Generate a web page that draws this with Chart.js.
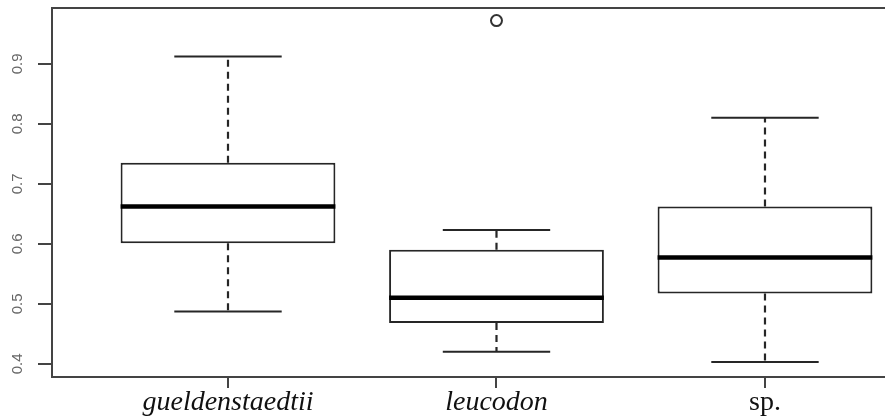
<!DOCTYPE html>
<html>
<head>
<meta charset="utf-8">
<script src="https://cdn.jsdelivr.net/npm/chart.js@4"></script>
<style>
html,body{margin:0;padding:0;background:#fff;overflow:hidden;}
#wrap{width:885px;height:420px;}
</style>
</head>
<body>
<div id="wrap"><canvas id="c" width="885" height="420"></canvas></div>
<script>
const categories = ['gueldenstaedtii', 'leucodon', 'sp.'];
const italicLabels = [true, true, false];
const whiskerLow = [0.487, 0.420, 0.403];
const q1 = [0.601, 0.468, 0.517];
const median = [0.662, 0.510, 0.577];
const q3 = [0.735, 0.590, 0.662];
const whiskerHigh = [0.912, 0.623, 0.810];
const outliers = [[], [0.972], []];
const yTicks = [0.4, 0.5, 0.6, 0.7, 0.8, 0.9];

const BOX_W = 0.8, CAP_W = 0.4;
const INK = '#262626';
const AXIS = '#444';

const datasets = [];
datasets.push({
  type: 'bar',
  data: categories.map((c, i) => ({x: i + 1, y: [q1[i], q3[i]]})),
  backgroundColor: '#ffffff',
  borderColor: INK,
  borderWidth: 2,
  borderSkipped: false,
  barPercentage: BOX_W,
  categoryPercentage: 1,
  order: 3
});
categories.forEach((c, i) => {
  const x = i + 1;
  [[q3[i], whiskerHigh[i]], [q1[i], whiskerLow[i]]].forEach(([a, b]) => {
    datasets.push({type: 'line', data: [{x, y: a}, {x, y: b}], borderColor: INK, borderWidth: 2.2,
      borderDash: [7, 5], pointRadius: 0, fill: false, order: 4});
  });
  [whiskerHigh[i], whiskerLow[i]].forEach(v => {
    datasets.push({type: 'line', data: [{x: x - CAP_W / 2, y: v}, {x: x + CAP_W / 2, y: v}], borderColor: INK,
      borderWidth: 2, pointRadius: 0, fill: false, order: 2});
  });
  datasets.push({type: 'line', data: [{x: x - BOX_W / 2, y: median[i]}, {x: x + BOX_W / 2, y: median[i]}],
    borderColor: '#000', borderWidth: 4.5, pointRadius: 0, fill: false, borderCapStyle: 'butt', order: 0});
});
datasets.push({
  type: 'scatter',
  data: outliers.flatMap((arr, i) => arr.map(v => ({x: i + 1, y: v}))),
  pointStyle: 'circle', pointRadius: 5.5, borderColor: '#333', borderWidth: 2,
  backgroundColor: 'rgba(0,0,0,0)', order: 1
});

const framePlugin = {
  id: 'frame',
  afterDraw(chart) {
    const {ctx, chartArea} = chart;
    ctx.save();
    ctx.strokeStyle = AXIS;
    ctx.lineWidth = 2;
    ctx.beginPath();
    ctx.moveTo(chartArea.left - 1, chartArea.top);
    ctx.lineTo(chartArea.right, chartArea.top);
    ctx.stroke();
    const ys = chart.scales.y;
    ctx.fillStyle = '#666';
    ctx.font = '15px "Liberation Sans", Arial, sans-serif';
    ctx.textAlign = 'center';
    ctx.textBaseline = 'middle';
    yTicks.forEach(v => {
      const py = ys.getPixelForValue(v);
      ctx.save();
      ctx.translate(18, py);
      ctx.rotate(-Math.PI / 2);
      ctx.fillText(v.toFixed(1), 0, 0);
      ctx.restore();
    });
    ctx.restore();
  }
};

new Chart(document.getElementById('c'), {
  data: {datasets},
  options: {
    responsive: false,
    animation: false,
    events: [],
    layout: {autoPadding: false, padding: {top: 8, right: 0, left: 0, bottom: 0}},
    plugins: {legend: {display: false}, tooltip: {enabled: false}},
    scales: {
      x: {
        type: 'linear',
        min: 0.3445,
        max: 3.447,
        offset: false,
        afterBuildTicks: s => { s.ticks = categories.map((c, i) => ({value: i + 1})); },
        afterFit: s => { s.height = 43; s.paddingLeft = 0; s.paddingRight = 0; },
        grid: {offset: false, drawOnChartArea: false, drawTicks: true, tickLength: 11, color: AXIS, lineWidth: 2},
        border: {display: true, color: AXIS, width: 2},
        ticks: {
          autoSkip: false,
          maxRotation: 0,
          padding: -2,
          color: '#111',
          callback: v => categories[Math.round(v) - 1] || '',
          font: ctx => ({family: '"Liberation Serif", "Times New Roman", serif', size: 28,
            style: italicLabels[ctx.index] ? 'italic' : 'normal'})
        }
      },
      y: {
        type: 'linear',
        min: 0.378,
        max: 0.993,
        afterBuildTicks: s => { s.ticks = yTicks.map(v => ({value: v})); },
        afterFit: s => { s.width = 52; },
        grid: {drawOnChartArea: false, drawTicks: true, tickLength: 14, color: AXIS, lineWidth: 2},
        border: {display: true, color: AXIS, width: 2},
        ticks: {display: false, includeBounds: false}
      }
    }
  },
  plugins: [framePlugin]
});
</script>
</body>
</html>
